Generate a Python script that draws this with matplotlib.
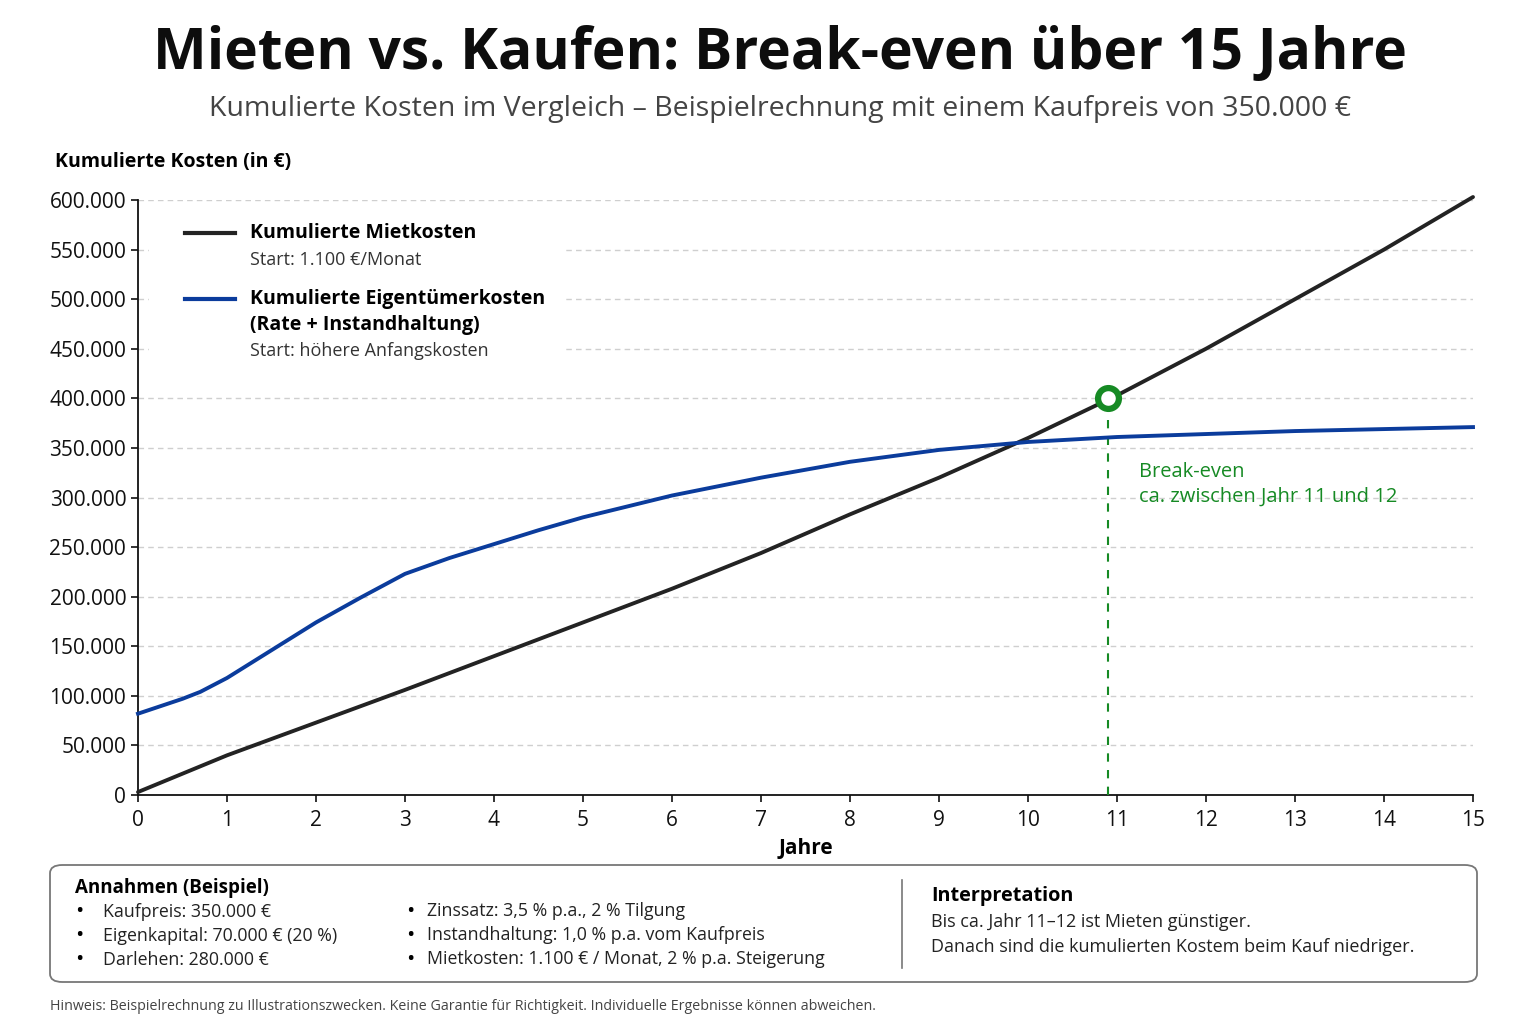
import matplotlib.pyplot as plt
from matplotlib.patches import FancyBboxPatch, Rectangle
from matplotlib.lines import Line2D

plt.rcParams['font.family'] = ['Open Sans', 'DejaVu Sans']

# Daten
jahre = [0, 1, 2, 3, 4, 5, 6, 7, 8, 9, 10, 11, 12, 13, 14, 15]
miete = [3000, 40000, 73000, 106000, 140000, 174000, 208000, 244000,
         283000, 320000, 360000, 403000, 450000, 500000, 550000, 603000]

jahre_kauf = [0, 0.5, 0.7, 1, 1.5, 2, 2.5, 3, 3.5, 4, 4.5, 5, 5.5, 6, 6.5, 7, 7.5, 8,
              8.5, 9, 9.5, 10, 11, 12, 13, 14, 15]
kauf = [82000, 97000, 104000, 118000, 146000, 174000, 199000, 223000, 239000, 253000,
        267000, 280000, 291000, 302000, 311000, 320000, 328000, 336000, 342000, 348000,
        352000, 356000, 361000, 364000, 367000, 369000, 371000]

break_even_x = 10.9
break_even_y = 400000

y_ticks = list(range(0, 600001, 50000))
x_ticks = list(range(0, 16))

annahmen_links = ["Kaufpreis: 350.000 €", "Eigenkapital: 70.000 € (20 %)", "Darlehen: 280.000 €"]
annahmen_rechts = ["Zinssatz: 3,5 % p.a., 2 % Tilgung",
                   "Instandhaltung: 1,0 % p.a. vom Kaufpreis",
                   "Mietkosten: 1.100 € / Monat, 2 % p.a. Steigerung"]

schwarz = '#232323'
blau = '#0b3c9c'
gruen = '#168a24'

fig = plt.figure(figsize=(15.36, 10.24), dpi=100)
ax = fig.add_axes([138/1536, 1 - 795/1024, (1473-138)/1536, (795-200)/1024])

def fmt(v):
    return f"{v:,.0f}".replace(",", ".")

# Linien
ax.plot(jahre, miete, color=schwarz, lw=2.8, zorder=4, clip_on=False, solid_capstyle='round')
ax.plot(jahre_kauf, kauf, color=blau, lw=2.8, zorder=4, clip_on=False)

# Break-even
ax.plot([break_even_x, break_even_x], [0, break_even_y - 12000], color=gruen, lw=1.5,
        ls=(0, (4, 4)), zorder=3)
ax.plot(break_even_x, break_even_y, 'o', ms=15, mfc='white', mec=gruen, mew=4.5, zorder=6)
ax.text(11.25, 313000, "Break-even\nca. zwischen Jahr 11 und 12", color=gruen, fontsize=14.5,
        va='center', ha='left', linespacing=1.3, zorder=6)

# Achsen
ax.set_xlim(0, 15)
ax.set_ylim(0, 600000)
ax.set_xticks(x_ticks)
ax.set_yticks(y_ticks)
ax.set_yticklabels([fmt(v) for v in y_ticks])
ax.tick_params(axis='both', labelsize=15, length=5, width=1.2, colors='#111111')
ax.tick_params(axis='x', pad=6)
ax.grid(axis='y', color='#cfcfcf', ls=(0, (4, 3)), lw=1)
ax.set_axisbelow(True)
for s in ['top', 'right']:
    ax.spines[s].set_visible(False)
for s in ['left', 'bottom']:
    ax.spines[s].set_linewidth(1.3)
    ax.spines[s].set_color('#111111')
ax.set_xlabel("Jahre", fontsize=15, fontweight='bold', labelpad=5)
fig.text(55/1536, 1 - 162/1024, "Kumulierte Kosten (in €)", fontsize=14, fontweight='bold',
         va='center', ha='left')

# Legende von Hand
ax.add_patch(Rectangle((0.008, 0.72), 0.31, 0.27, transform=ax.transAxes, facecolor='white',
                       edgecolor='none', zorder=2))
def px(x, y):
    return (x - 138) / (1473 - 138), (795 - y) / (795 - 200)
for y_line, farbe in [(233, schwarz), (299, blau)]:
    x0, yy = px(185, y_line)
    x1, _ = px(235, y_line)
    ax.add_line(Line2D([x0, x1], [yy, yy], transform=ax.transAxes, color=farbe, lw=3, zorder=5))
tx, ty = px(250, 233)
ax.text(tx, ty, "Kumulierte Mietkosten", transform=ax.transAxes, fontsize=14, fontweight='bold',
        va='center', zorder=5)
tx, ty = px(250, 260)
ax.text(tx, ty, "Start: 1.100 €/Monat", transform=ax.transAxes, fontsize=13, color='#333333',
        va='center', zorder=5)
tx, ty = px(250, 299)
ax.text(tx, ty, "Kumulierte Eigentümerkosten", transform=ax.transAxes, fontsize=14,
        fontweight='bold', va='center', zorder=5)
tx, ty = px(250, 325)
ax.text(tx, ty, "(Rate + Instandhaltung)", transform=ax.transAxes, fontsize=14,
        fontweight='bold', va='center', zorder=5)
tx, ty = px(250, 351)
ax.text(tx, ty, "Start: höhere Anfangskosten", transform=ax.transAxes, fontsize=13,
        color='#333333', va='center', zorder=5)

# Titel
fig.text(780/1536, 1 - 54/1024, "Mieten vs. Kaufen: Break-even über 15 Jahre", fontsize=41,
         fontweight='bold', ha='center', va='center', color='#0d0d0d')
fig.text(780/1536, 1 - 109/1024,
         "Kumulierte Kosten im Vergleich – Beispielrechnung mit einem Kaufpreis von 350.000 €",
         fontsize=20.5, ha='center', va='center', color='#444444')

# Annahmen-Box
box = FancyBboxPatch((50/1536, 1 - 982/1024), (1477-50)/1536, (982-865)/1024,
                     boxstyle="round,pad=0,rounding_size=0.008", transform=fig.transFigure,
                     facecolor='white', edgecolor='#777777', lw=1.3)
fig.patches.append(box)
fig.add_artist(Line2D([902/1536, 902/1536], [1 - 968/1024, 1 - 880/1024],
                      transform=fig.transFigure, color='#777777', lw=1.2))
fig.text(75/1536, 1 - 888/1024, "Annahmen (Beispiel)", fontsize=13.5, fontweight='bold',
         va='center')
for i, t in enumerate(annahmen_links):
    y = 1 - (912 + i * 24) / 1024
    fig.text(75/1536, y, "•", fontsize=16, va='center')
    fig.text(103/1536, y, t, fontsize=12.8, va='center', color='#222222')
for i, t in enumerate(annahmen_rechts):
    y = 1 - (911 + i * 24) / 1024
    fig.text(406/1536, y, "•", fontsize=16, va='center')
    fig.text(427/1536, y, t, fontsize=12.8, va='center', color='#222222')
fig.text(931/1536, 1 - 896/1024, "Interpretation", fontsize=14.3, fontweight='bold', va='center')
fig.text(931/1536, 1 - 922/1024, "Bis ca. Jahr 11–12 ist Mieten günstiger.", fontsize=13,
         va='center', color='#222222')
fig.text(931/1536, 1 - 947/1024, "Danach sind die kumulierten Kostem beim Kauf niedriger.",
         fontsize=13, va='center', color='#222222')

fig.text(50/1536, 1 - 1006/1024,
         "Hinweis: Beispielrechnung zu Illustrationszwecken. Keine Garantie für Richtigkeit. "
         "Individuelle Ergebnisse können abweichen.", fontsize=10.3, va='center', color='#444444')

fig.savefig("out.png", dpi=100, facecolor='white')
